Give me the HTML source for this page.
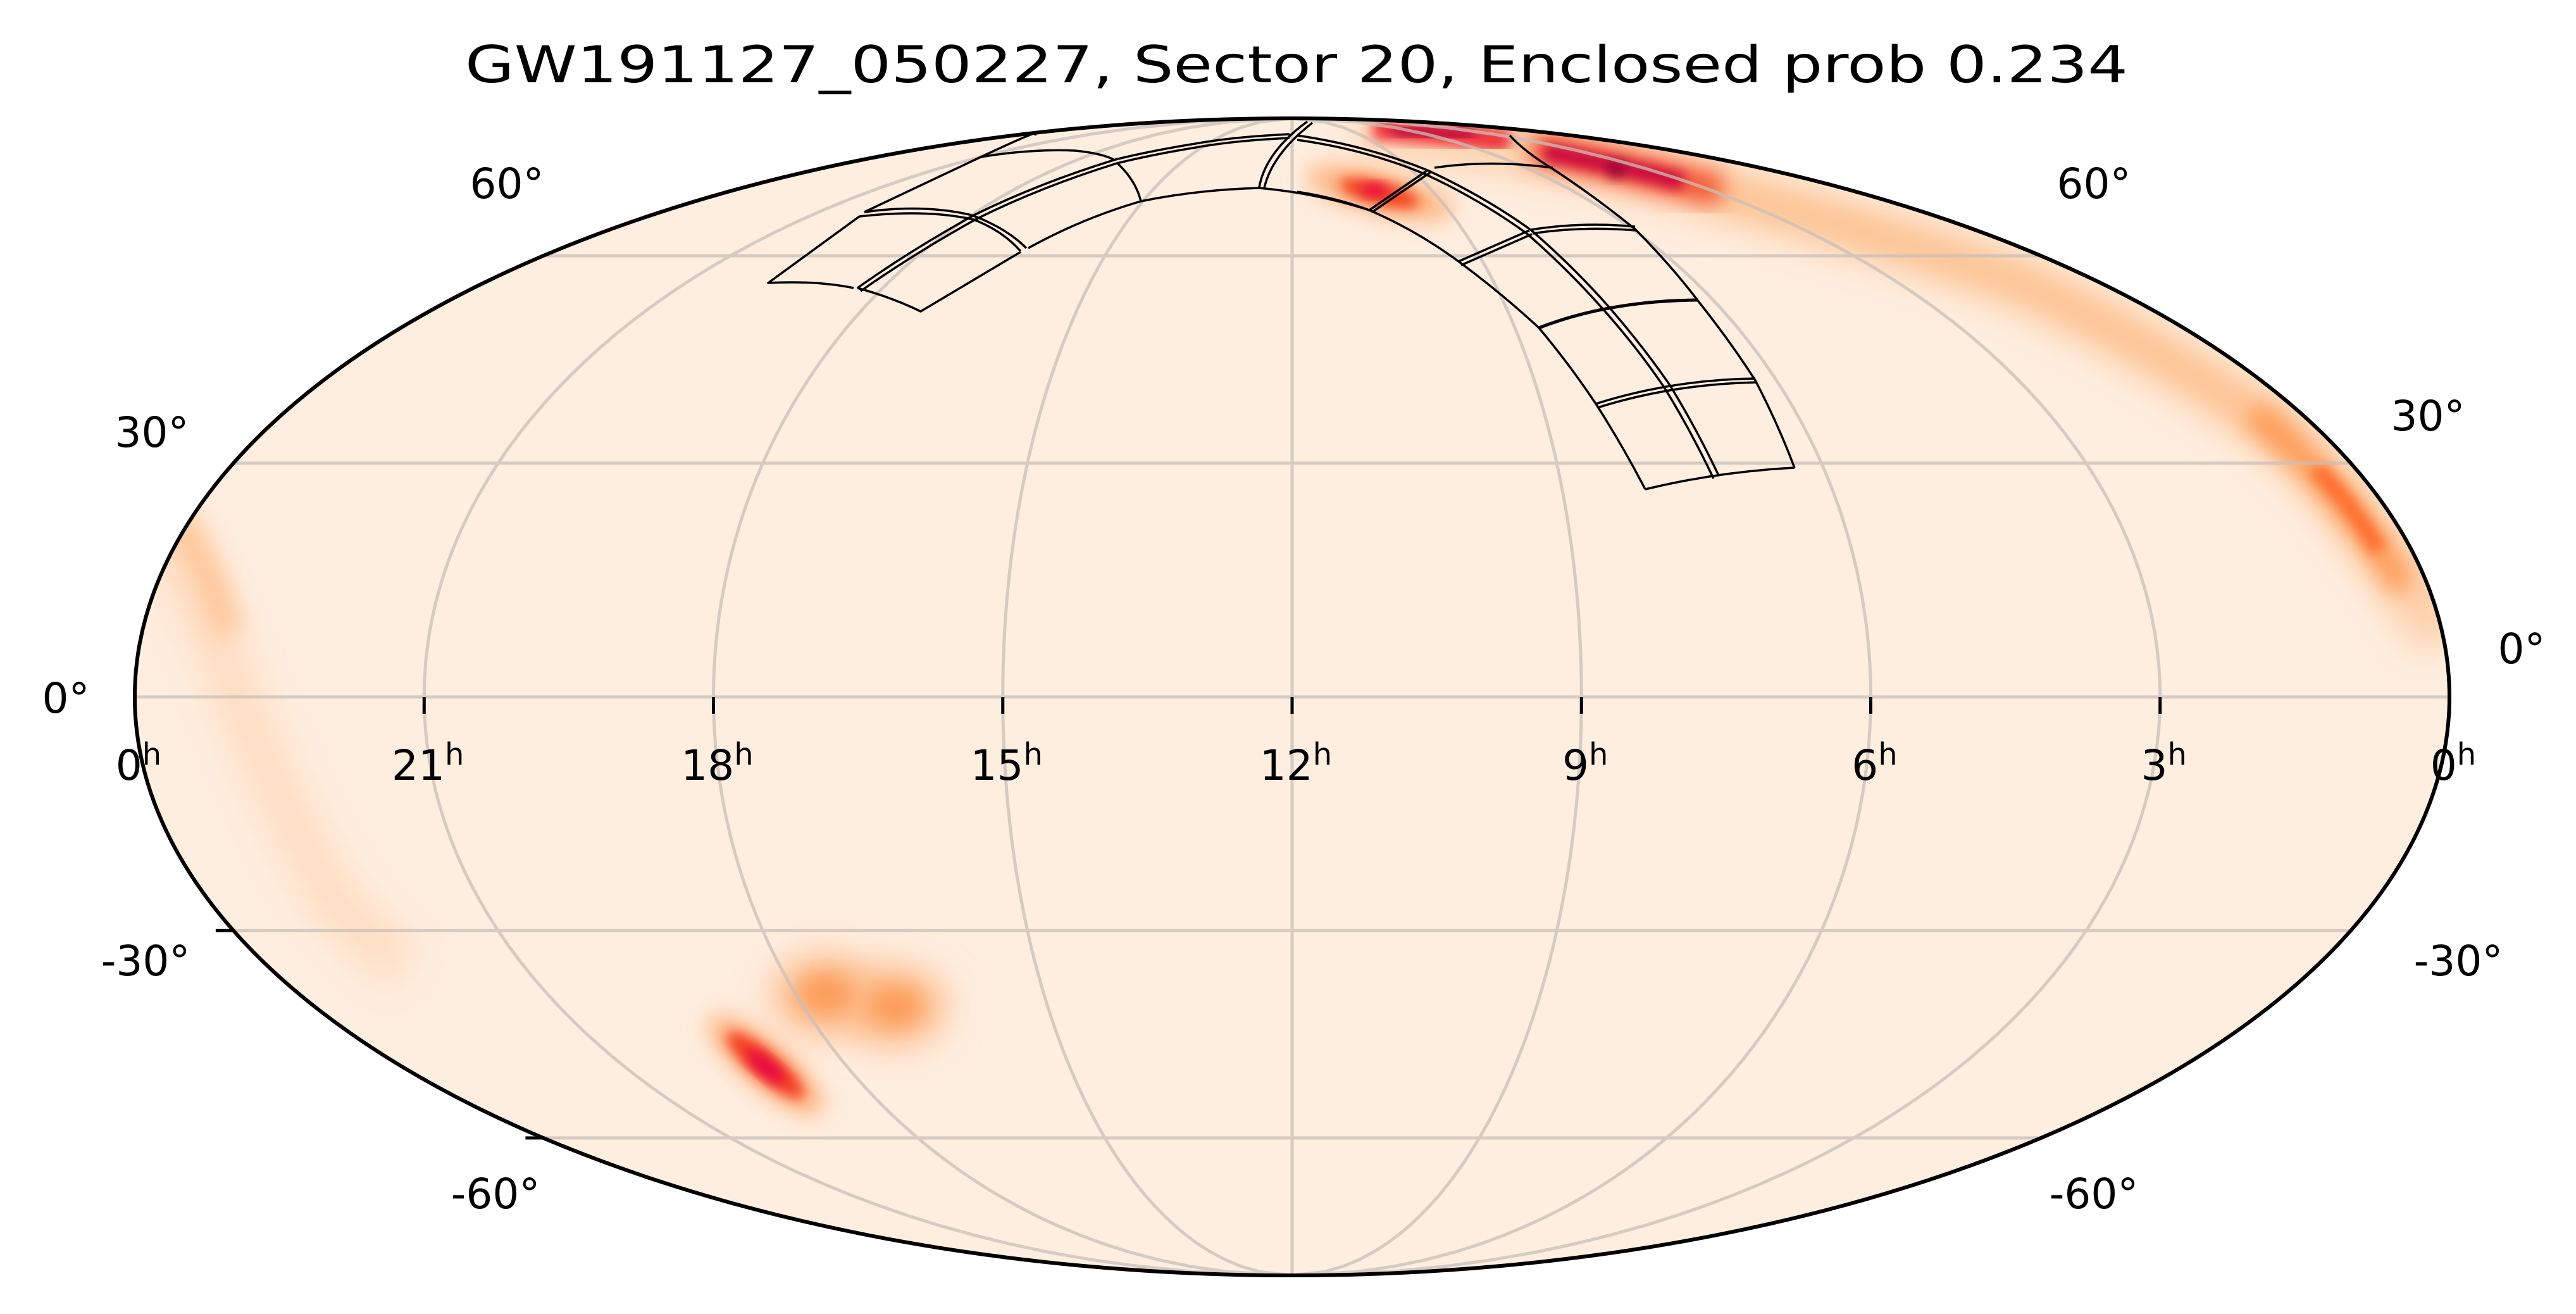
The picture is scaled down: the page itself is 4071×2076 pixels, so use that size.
<!DOCTYPE html>
<html><head><meta charset="utf-8">
<style>
html,body{margin:0;padding:0;background:#fff;}
svg{display:block;}
text{font-family:"DejaVu Sans","Liberation Sans",sans-serif;fill:#000;}
</style></head>
<body>
<svg id="s" width="4071" height="2076" viewBox="0 0 4071 2076" xmlns="http://www.w3.org/2000/svg">
<defs>
<clipPath id="cp"><ellipse cx="2042" cy="1101" rx="1829" ry="914"/></clipPath>
<filter id="b10" x="-50%" y="-50%" width="200%" height="200%"><feGaussianBlur stdDeviation="10"/></filter>
<filter id="b18" x="-50%" y="-50%" width="200%" height="200%"><feGaussianBlur stdDeviation="18"/></filter>
<filter id="b30" x="-50%" y="-50%" width="200%" height="200%"><feGaussianBlur stdDeviation="30"/></filter>
</defs>
<text x="2049" y="130" font-size="80" text-anchor="middle" textLength="2628" lengthAdjust="spacingAndGlyphs">GW191127_050227, Sector 20, Enclosed prob 0.234</text>
<g clip-path="url(#cp)">
<rect x="0" y="0" width="4071" height="2076" fill="#feeee0"/>
<!-- left faint band -->
<path d="M230,800 Q300,900 360,1060 Q430,1250 520,1410 Q570,1480 640,1530" fill="none" stroke="#fedbbd" stroke-width="80" filter="url(#b30)" opacity="0.9"/>
<path d="M250,780 Q330,880 360,1000" fill="none" stroke="#fdbf8c" stroke-width="45" filter="url(#b18)" opacity="0.8"/>
<!-- top/right band -->
<path d="M2150,196 Q2450,225 2700,300 Q2950,360 3200,450 Q3466,577 3632,707 Q3760,850 3860,1010" fill="none" stroke="#fdcda5" stroke-width="85" filter="url(#b30)"/>
<path d="M2700,300 Q2950,360 3200,450 Q3466,577 3632,707" fill="none" stroke="#fdc495" stroke-width="40" filter="url(#b18)"/>
<path d="M3560,650 Q3700,770 3800,930" fill="none" stroke="#fd9a55" stroke-width="42" filter="url(#b18)"/>
<path d="M3660,740 Q3720,800 3760,870" fill="none" stroke="#ff6a2a" stroke-width="26" filter="url(#b10)"/>
<path d="M2170,202 Q2300,212 2386,224" fill="none" stroke="#f0303a" stroke-width="36" filter="url(#b10)"/>
<path d="M2200,205 L2330,214" fill="none" stroke="#b0003f" stroke-width="16" filter="url(#b10)"/>
<path d="M2420,232 Q2560,262 2720,302" fill="none" stroke="#f4502a" stroke-width="50" filter="url(#b18)"/>
<path d="M2440,240 Q2560,262 2660,288" fill="none" stroke="#c8003f" stroke-width="26" filter="url(#b10)"/>
<circle cx="2554" cy="268" r="12" fill="#800030" filter="url(#b10)"/>
<!-- red blob under top -->
<ellipse cx="2180" cy="305" rx="120" ry="32" transform="rotate(14 2180 305)" fill="#fdb07a" filter="url(#b18)"/>
<ellipse cx="2180" cy="305" rx="65" ry="18" transform="rotate(14 2180 305)" fill="#f4401f" filter="url(#b10)"/>
<ellipse cx="2172" cy="300" rx="22" ry="9" fill="#e8004a" filter="url(#b10)"/>
<!-- bottom blobs -->
<ellipse cx="1303" cy="1572" rx="80" ry="60" fill="#fdb47e" filter="url(#b30)"/>
<ellipse cx="1413" cy="1590" rx="80" ry="60" fill="#fdb47e" filter="url(#b30)"/>
<ellipse cx="1305" cy="1570" rx="40" ry="28" fill="#fc9a55" filter="url(#b18)"/>
<ellipse cx="1415" cy="1590" rx="40" ry="28" fill="#fc9a55" filter="url(#b18)"/>
<ellipse cx="1210" cy="1683" rx="115" ry="36" transform="rotate(40 1210 1683)" fill="#fdb07a" filter="url(#b18)"/>
<ellipse cx="1210" cy="1683" rx="78" ry="22" transform="rotate(40 1210 1683)" fill="#f43e20" filter="url(#b10)"/>
<ellipse cx="1212" cy="1685" rx="38" ry="12" transform="rotate(40 1210 1683)" fill="#e8004a" filter="url(#b10)"/>
<g id="grid" fill="none" stroke="#c8bfb8" stroke-width="5" opacity="0.75"></g>
</g>
<g fill="none" stroke="#000" stroke-width="3.5" stroke-linejoin="round">
<!-- right group -->
<path d="M2050,214 Q2160,230 2256,269 Q2345,310 2419,363 Q2485,420 2540,482 Q2595,545 2638,607 Q2680,675 2716,751"/>
<path d="M2050,221 Q2158,236 2252,275 Q2340,316 2413,369 Q2478,426 2533,488 Q2588,550 2630,612 Q2672,680 2708,756"/>
<path d="M2050,303 Q2110,312 2164,332 Q2240,365 2305,413 Q2375,465 2432,518 Q2480,575 2522,638 Q2565,705 2600,773"/>
<path d="M2386,214 Q2410,240 2451,265 Q2520,310 2584,362 Q2640,418 2684,476 Q2735,540 2774,601 Q2810,670 2836,739"/>
<path d="M2066,192 Q2000,240 1990,296"/>
<path d="M2074,194 Q2010,244 1998,297"/>
<path d="M2164,332 L2256,269"/><path d="M2170,334 L2261,272"/>
<path d="M2267,265 Q2353,252 2454,265"/>
<path d="M2419,363 Q2500,350 2584,358"/><path d="M2422,369 Q2500,357 2586,364"/>
<path d="M2305,413 L2417,364"/><path d="M2309,419 L2421,370"/>
<path d="M2432,518 Q2543,475 2684,474" stroke-width="5"/>
<path d="M2522,638 Q2641,600 2774,598"/><path d="M2525,644 Q2642,607 2776,604"/>
<path d="M2600,773 Q2716,745 2836,739"/>
<!-- left group -->
<path d="M2038,212 Q1950,216 1889,227 Q1820,238 1763,252 Q1640,290 1539,340 Q1440,395 1355,455"/>
<path d="M2038,218 Q1950,222 1890,233 Q1822,244 1765,258 Q1643,296 1543,346 Q1444,401 1360,460"/>
<path d="M2164,332 Q2080,305 1990,297 Q1890,300 1803,318 Q1710,345 1625,392"/>
<path d="M1803,318 Q1795,285 1765,257"/>
<path d="M1550,248 Q1630,235 1699,238 Q1740,242 1760,252"/>
<path d="M1550,248 Q1610,220 1628,213 Q1638,208 1636,214"/>
<path d="M1366,335 Q1460,322 1536,340"/>
<path d="M1366,335 L1550,248"/>
<path d="M1358,342 Q1464,330 1539,347 Q1585,365 1613,397"/>
<path d="M1536,340 Q1590,360 1622,392"/>
<path d="M1358,342 L1214,447 Q1290,443 1349,455"/>
<path d="M1355,455 Q1410,470 1455,492 L1613,398"/>
</g>
<ellipse cx="2042" cy="1101" rx="1829" ry="914" fill="none" stroke="#000" stroke-width="6"/>
<g id="ticks" stroke="#000" stroke-width="5"></g>
<g font-size="66" text-anchor="middle" id="labels"></g>
</svg>
<script>
(function(){
var cx=2042,cy=1101,A=1829,B=914,ns="http://www.w3.org/2000/svg";
function th(phi){var t=phi,k=Math.PI*Math.sin(phi);if(Math.abs(Math.abs(phi)-Math.PI/2)<1e-9)return phi;for(var i=0;i<50;i++){t-= (2*t+Math.sin(2*t)-k)/(2+2*Math.cos(2*t));}return t;}
function P(lonOff,lat){var t=th(lat*Math.PI/180);return [cx+A*(lonOff/180)*Math.cos(t),cy-B*Math.sin(t)];}
var g=document.getElementById('grid'),d='';
[-60,-30,0,30,60].forEach(function(l){var a=P(-180,l),b=P(180,l);d+='M'+a[0]+','+a[1]+'L'+b[0]+','+b[1];});
for(var m=-135;m<=135;m+=45){var s='';for(var la=-90;la<=90;la+=2){var p=P(m,la);s+=(s?'L':'M')+p[0].toFixed(1)+','+p[1].toFixed(1);}d+=s;}
var pa=document.createElementNS(ns,'path');pa.setAttribute('d',d);g.appendChild(pa);
var L=document.getElementById('labels');
function txt(x,y,str,sup){var t=document.createElementNS(ns,'text');t.setAttribute('x',x);t.setAttribute('y',y);t.textContent=str;if(sup){var ts=document.createElementNS(ns,'tspan');ts.setAttribute('dy','-24');ts.setAttribute('font-size','48');ts.textContent=sup;t.appendChild(ts);}L.appendChild(t);}
var ras=['0','21','18','15','12','9','6','3','0'];
for(var i=0;i<9;i++){txt(213+i*457.25+6,1232,ras[i],'h');}
var lab=[[801,313,'60°'],[3309,313,'60°'],[240,706,'30°'],[3837,680,'30°'],[104,1126,'0°'],[3985,1048,'0°'],[230,1541,'-30°'],[3885,1541,'-30°'],[783,1909,'-60°'],[3309,1909,'-60°']];
lab.forEach(function(q){txt(q[0],q[1],q[2]);});
var T=document.getElementById('ticks');
for(var i=0;i<9;i++){var x=213+i*457.25;var ln=document.createElementNS(ns,'line');ln.setAttribute('x1',x);ln.setAttribute('x2',x);ln.setAttribute('y1',1101);ln.setAttribute('y2',1128);T.appendChild(ln);}
[[-30],[-60]].forEach(function(q){var p=P(-180,q[0]);var ln=document.createElementNS(ns,'line');ln.setAttribute('x1',p[0]-28);ln.setAttribute('x2',p[0]);ln.setAttribute('y1',p[1]);ln.setAttribute('y2',p[1]);T.appendChild(ln);});
})();
</script>
</body></html>
